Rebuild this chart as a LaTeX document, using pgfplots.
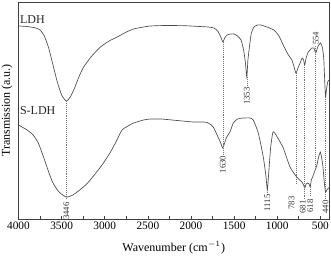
\documentclass[border=0pt]{standalone}
\usepackage{pgfplots}
\pgfplotsset{compat=1.18}
\usepackage{fontspec}
\setmainfont{Liberation Serif}
\begin{document}
\begin{tikzpicture}
\begin{axis}[
  scale only axis, width=232.875pt, height=162.75pt,
  x dir=reverse, xmin=400, xmax=4000, ymin=0, ymax=217,
  xtick={4000,3500,3000,2500,2000,1500,1000,500},
  minor xtick={3750,3250,2750,2250,1750,1250,750},
  xticklabels={4000,3500,3000,2500,2000,1500,1000,500},
  ytick=\empty, tick align=inside, xtick pos=left,
  major tick length=2.5pt, minor tick length=2.5pt,
  axis line style={black!75, line width=0.5pt},
  every tick/.style={black!75, line width=0.5pt},
  tick label style={font=\fontsize{8.5}{9}\selectfont, /pgf/number format/assume math mode=true},
  xticklabel style={yshift=1pt},
  xlabel={Wavenumber (cm$^{-1}$)},
  ylabel={Transmission (a.u.)},
  label style={font=\fontsize{9}{10}\selectfont},
  xlabel style={at={(rel axis cs:0.5,0)}, anchor=north, yshift=-13pt},
  ylabel style={at={(rel axis cs:0,0.5)}, anchor=south, rotate=0, yshift=1pt},
  clip=false,
]
\addplot[black!70, line width=0.5pt, smooth, tension=0.35] coordinates {
(4000,193)(3900,192.5)(3800,191)(3750,189)(3700,183)(3650,171)(3600,154)(3550,137)(3500,124)(3446,118)(3400,122)(3350,131)(3300,142)(3245,152)(3150,163)(3050,172)(2950,178)(2855,182)(2750,187)(2665,190)(2550,192)(2470,193)(2300,193.5)(2080,193.3)(1900,192.5)(1800,192)(1735,191)(1690,188)(1655,182)(1630,177)(1610,181)(1580,184)(1540,185)(1500,185)(1460,183)(1420,179)(1390,169)(1370,157)(1353,142)(1340,159)(1320,174)(1300,186)(1270,192)(1230,194)(1190,194)(1120,192)(1040,189)(980,183)(920,172)(870,164)(830,159)(805,152)(783,146)(760,151)(735,156)(710,161)(695,159)(681,154)(665,161)(640,167)(600,171)(575,171)(554,166)(530,172)(500,176)(475,171)(460,159)(450,139)(440,122)(430,129)(415,137)(400,139)
};
\addplot[black!70, line width=0.5pt, smooth, tension=0.35] coordinates {
(4000,94)(3900,89)(3830,84)(3770,76)(3710,62)(3650,47)(3600,36)(3530,27)(3446,22)(3370,24)(3290,29)(3210,35)(3140,42)(3040,53)(2940,66)(2870,77)(2800,89)(2730,93)(2665,96)(2550,99)(2470,100)(2350,100)(2220,99)(2100,98)(1970,97)(1850,97)(1800,96)(1742,92)(1687,82)(1655,76)(1633,71)(1610,76)(1586,82)(1548,87)(1510,96)(1460,100)(1394,101)(1316,101)(1278,99)(1220,86)(1162,62)(1130,42)(1115,29)(1099,46)(1076,72)(1053,86)(1038,87)(1000,82)(930,71)(852,52)(775,42)(740,39)(713,37)(695,34)(681,31)(665,35)(650,36)(630,35)(618,32)(605,39)(590,42)(560,49)(540,54)(520,62)(500,67)(485,61)(470,52)(455,37)(440,27)(425,29)(405,31)(400,31)
};
% dotted guide lines
\addplot[black!55, densely dotted, line width=0.45pt] coordinates {(3446,118)(3446,21)};
\addplot[black!55, densely dotted, line width=0.45pt] coordinates {(1630,177)(1630,63)};
\addplot[black!55, densely dotted, line width=0.45pt] coordinates {(1353,142)(1353,133)};
\addplot[black!55, densely dotted, line width=0.45pt] coordinates {(1115,29)(1115,25)};
\addplot[black!55, densely dotted, line width=0.45pt] coordinates {(783,146)(783,34)};
\addplot[black!55, densely dotted, line width=0.45pt] coordinates {(681,154)(681,20)};
\addplot[black!55, densely dotted, line width=0.45pt] coordinates {(618,32)(618,24)};
\addplot[black!55, densely dotted, line width=0.45pt] coordinates {(554,173)(554,50)};
\addplot[black!55, densely dotted, line width=0.45pt] coordinates {(440,122)(440,20)};
% peak labels
\begin{scope}[every node/.style={rotate=90, font=\fontsize{6.5}{7}\selectfont, inner sep=0.5pt, text=black!80}]
\node at (axis cs:3446,8) {3446};
\node at (axis cs:1630,54.5) {1630};
\node at (axis cs:1353,123) {1353};
\node at (axis cs:1115,16) {1115};
\node at (axis cs:835,16) {783};
\node at (axis cs:705,12) {681};
\node at (axis cs:618,13) {618};
\node at (axis cs:554,180.5) {554};
\node at (axis cs:440,12) {440};
\end{scope}
\node[anchor=west, font=\fontsize{9}{10}\selectfont, inner sep=0pt, text=black!85] at (axis cs:3985,199) {LDH};
\node[anchor=west, font=\fontsize{9}{10}\selectfont, inner sep=0pt, text=black!85] at (axis cs:3985,108) {S-LDH};
\end{axis}
\pgfresetboundingbox
\path ([shift={(-13.875pt,-31.5pt)}]current axis.south west) rectangle ([shift={(1.5pt,1.5pt)}]current axis.north east);
\end{tikzpicture}
\end{document}
